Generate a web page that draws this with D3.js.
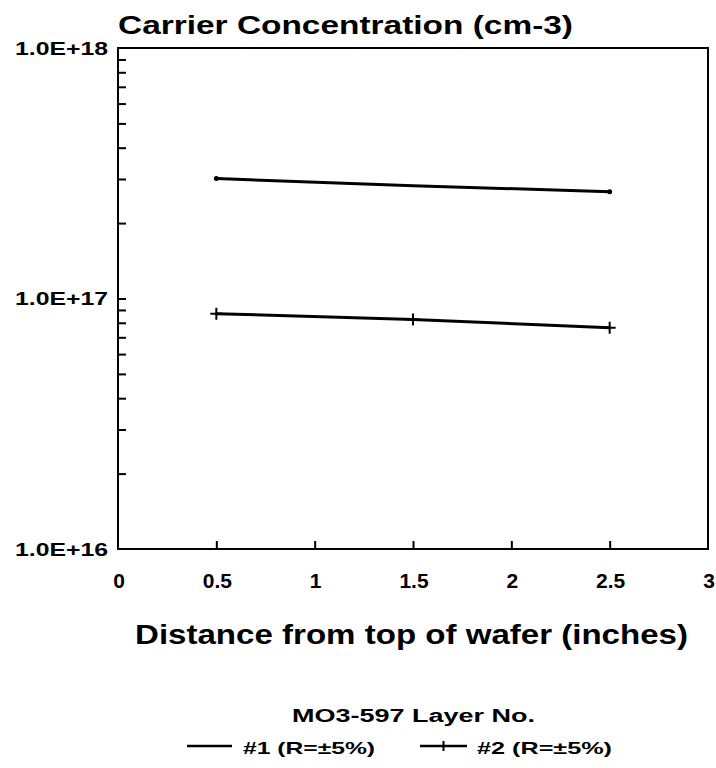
<!DOCTYPE html>
<html>
<head>
<meta charset="utf-8">
<script src="https://cdn.jsdelivr.net/npm/d3@7"></script>
<style>
  html, body { margin: 0; padding: 0; background: #fff; }
  text { font-family: "Liberation Sans", Arial, Helvetica, sans-serif; font-weight: bold; fill: #000; }
</style>
</head>
<body>
<svg id="chart" width="716" height="768"></svg>
<script>
// ---- data ----
const distances = [0.5, 1.5, 2.5];
const layer1 = [3.01e17, 2.82e17, 2.67e17];
const layer2 = [8.7e16, 8.25e16, 7.65e16];
const seriesNames = ["#1 (R=\u00B15%)", "#2 (R=\u00B15%)"];
const xTickValues = [0, 0.5, 1, 1.5, 2, 2.5, 3];
const xTickLabels = ["0", "0.5", "1", "1.5", "2", "2.5", "3"];
const yMajorValues = [1e16, 1e17, 1e18];
const yMajorLabels = ["1.0E+16", "1.0E+17", "1.0E+18"];
const titleText = "Carrier Concentration (cm-3)";
const xTitle = "Distance from top of wafer (inches)";
const legendTitle = "MO3-597 Layer No.";

// ---- layout ----
const svg = d3.select("#chart");
const L = 118, R = 708, T = 48, B = 549;

const x = d3.scaleLinear().domain([0, 3]).range([L, R]);
const y = d3.scaleLog().domain([1e16, 1e18]).range([B, T]);

// frame
svg.append("rect").attr("x", L).attr("y", T).attr("width", R - L).attr("height", B - T)
  .attr("fill", "none").attr("stroke", "#000").attr("stroke-width", 2);

// y minor ticks (inward)
const yMinor = [];
[1e16, 1e17].forEach(d => { for (let k = 1; k <= 9; k++) yMinor.push(d * k); });
const yAxis = d3.axisRight(y).tickValues(yMinor.filter(v => v > 1e16)).tickSize(8).tickFormat("");
const gy = svg.append("g").attr("transform", `translate(${L},0)`).call(yAxis);
gy.select(".domain").remove();
gy.selectAll("line").attr("stroke", "#000").attr("stroke-width", 2);

// y labels
svg.append("g").selectAll("text").data(yMajorValues).join("text")
  .attr("x", 108).attr("y", d => y(d) + 6.5)
  .attr("text-anchor", "end").attr("font-size", 18)
  .attr("textLength", 93).attr("lengthAdjust", "spacingAndGlyphs")
  .text((d, i) => yMajorLabels[i]);

// x ticks (inward)
const xAxis = d3.axisTop(x).tickValues(xTickValues.filter(v => v > 0 && v < 3)).tickSize(8).tickFormat("");
const gx = svg.append("g").attr("transform", `translate(0,${B})`).call(xAxis);
gx.select(".domain").remove();
gx.selectAll("line").attr("stroke", "#000").attr("stroke-width", 2);

// x labels
svg.append("g").selectAll("text").data(xTickValues).join("text")
  .attr("x", d => x(d) + 1).attr("y", 588)
  .attr("text-anchor", "middle").attr("font-size", 21)
  .text((d, i) => xTickLabels[i]);

// lines
const line = d3.line().x(d => x(d[0])).y(d => y(d[1]));
const s1 = distances.map((d, i) => [d, layer1[i]]);
const s2 = distances.map((d, i) => [d, layer2[i]]);
[s1, s2].forEach(s => {
  svg.append("path").datum(s).attr("d", line)
    .attr("fill", "none").attr("stroke", "#000").attr("stroke-width", 3)
    .attr("stroke-linecap", "round").attr("stroke-linejoin", "round");
});
// series 1 end dots
svg.append("g").selectAll("circle").data([s1[0], s1[s1.length - 1]]).join("circle")
  .attr("cx", d => x(d[0])).attr("cy", d => y(d[1])).attr("r", 2.5).attr("fill", "#000");
// series 2 plus markers
svg.append("g").selectAll("path").data(s2).join("path")
  .attr("d", d => {
    const cx = x(d[0]), cy = y(d[1]);
    return `M${cx - 6},${cy}H${cx + 6}M${cx},${cy - 6}V${cy + 6}`;
  })
  .attr("stroke", "#000").attr("stroke-width", 2).attr("fill", "none");

// title
svg.append("text").attr("x", 118).attr("y", 34).attr("font-size", 25)
  .attr("textLength", 455).attr("lengthAdjust", "spacingAndGlyphs")
  .text(titleText);

// x title
svg.append("text").attr("x", 135).attr("y", 644).attr("font-size", 28)
  .attr("textLength", 553).attr("lengthAdjust", "spacingAndGlyphs")
  .text(xTitle);

// legend title
svg.append("text").attr("x", 292).attr("y", 722).attr("font-size", 18)
  .attr("textLength", 243).attr("lengthAdjust", "spacingAndGlyphs")
  .text(legendTitle);

// legend items
const legendItems = [
  { x1: 187, x2: 232, tx: 243, tw: 132, marker: false },
  { x1: 420, x2: 467, tx: 477, tw: 135, marker: true }
];
const lg = svg.append("g");
legendItems.forEach((it, i) => {
  lg.append("line").attr("x1", it.x1).attr("x2", it.x2).attr("y1", 746).attr("y2", 746)
    .attr("stroke", "#000").attr("stroke-width", 2.5);
  if (it.marker) {
    const cx = (it.x1 + it.x2) / 2;
    lg.append("line").attr("x1", cx).attr("x2", cx).attr("y1", 741).attr("y2", 751)
      .attr("stroke", "#000").attr("stroke-width", 2);
  }
  lg.append("text").attr("x", it.tx).attr("y", 754).attr("font-size", 17)
    .attr("textLength", it.tw).attr("lengthAdjust", "spacingAndGlyphs")
    .text(seriesNames[i]);
});
</script>
</body>
</html>
